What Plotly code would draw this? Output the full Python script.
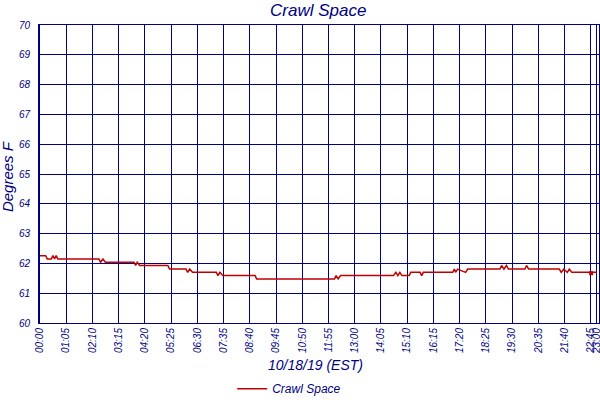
import plotly.graph_objects as go

# readings, 10/18/19 (EST)
times = ["00:00", "00:14", "00:18", "00:28", "00:32", "00:36", "00:40", "00:44",
         "02:26", "02:30", "02:36", "02:42",
         "03:53", "03:57", "04:01", "04:07",
         "05:17", "05:21",
         "06:02", "06:06", "06:11", "06:18",
         "07:17", "07:21", "07:26", "07:33",
         "08:53", "08:57",
         "12:10", "12:14", "12:19", "12:25",
         "14:36", "14:42", "14:47", "14:52", "14:57",
         "15:15", "15:19",
         "15:42", "15:46", "15:50",
         "17:03", "17:07", "17:10", "17:15", "17:35", "17:40",
         "19:00", "19:04", "19:10", "19:16", "19:21",
         "20:02", "20:06", "20:11",
         "21:27", "21:32", "21:38", "21:47", "21:52", "21:58",
         "23:00"]
temps = [62.26, 62.26, 62.15, 62.15, 62.26, 62.15, 62.26, 62.15,
         62.15, 62.04, 62.15, 62.04,
         62.04, 61.93, 62.04, 61.93,
         61.93, 61.81,
         61.81, 61.70, 61.81, 61.70,
         61.70, 61.59, 61.70, 61.59,
         61.59, 61.48,
         61.48, 61.59, 61.48, 61.59,
         61.59, 61.70, 61.59, 61.70, 61.59,
         61.59, 61.70,
         61.70, 61.59, 61.70,
         61.70, 61.81, 61.70, 61.81, 61.70, 61.81,
         61.81, 61.93, 61.81, 61.93, 61.81,
         61.81, 61.93, 61.81,
         61.81, 61.70, 61.81, 61.70, 61.81, 61.70,
         61.70]

last_time = "22:46"
last_temp = 61.67

tick_labels = ["00:00", "01:05", "02:10", "03:15", "04:20", "05:25", "06:30",
               "07:35", "08:40", "09:45", "10:50", "11:55", "13:00", "14:05",
               "15:10", "16:15", "17:20", "18:25", "19:30", "20:35", "21:40",
               "22:45", "23:00"]

day = "2019-10-18 "
navy = "#000080"
red = "#C00000"
fnt = "Liberation Sans"

fig = go.Figure()
fig.add_trace(go.Scatter(
    x=[day + t for t in times], y=temps,
    mode="lines", name="Crawl Space",
    line=dict(color=red, width=1.5),
))
fig.add_trace(go.Scatter(
    x=[day + last_time], y=[last_temp],
    mode="markers", showlegend=False,
    marker=dict(color=red, size=4, symbol="square"),
))

fig.update_layout(
    width=600, height=400,
    margin=dict(l=40, r=1, t=25, b=77),
    paper_bgcolor="white", plot_bgcolor="white",
    font=dict(family=fnt, color=navy),
    showlegend=True,
    legend=dict(orientation="h", xref="container", yref="container",
                x=0.482, y=0.028, xanchor="center", yanchor="middle",
                font=dict(size=12, style="italic", color=navy),
                itemwidth=30, bgcolor="rgba(0,0,0,0)"),
    xaxis=dict(
        type="date",
        range=[day + "00:00", day + "23:05:30"],
        tickvals=[day + t for t in tick_labels],
        ticktext=tick_labels,
        tickangle=-90,
        ticklabeloverflow="allow",
        tickfont=dict(size=10, style="italic", color=navy),
        showgrid=True, gridcolor=navy, gridwidth=1,
        showline=True, linecolor=navy, linewidth=1, mirror=True,
        ticks="", automargin=False, zeroline=False,
    ),
    yaxis=dict(
        range=[60, 70], dtick=1,
        tickfont=dict(size=10, style="italic", color=navy),
        ticklabelstandoff=6,
        showgrid=True, gridcolor=navy, gridwidth=1,
        showline=True, linecolor=navy, linewidth=2, mirror=True,
        ticks="", automargin=False, zeroline=False,
    ),
    annotations=[
        dict(text="Crawl Space", xref="paper", yref="paper", x=0.498, y=1.0,
             yanchor="bottom", yshift=3, showarrow=False,
             font=dict(size=17, style="italic", color=navy)),
        dict(text="Degrees F", xref="paper", yref="paper", x=-0.057, y=0.49,
             textangle=-90, xanchor="center", yanchor="middle", showarrow=False,
             font=dict(size=15, style="italic", color=navy)),
        dict(text="10/18/19 (EST)", xref="paper", yref="paper", x=0.493, y=-0.14,
             yanchor="middle", showarrow=False,
             font=dict(size=14, style="italic", color=navy)),
    ],
)

# page has a default 8px body margin; drop it so the figure sits at 0,0
fig.write_html("out.html", config={"displayModeBar": False},
               post_script="document.body.style.margin='0';document.body.style.overflow='hidden';")
